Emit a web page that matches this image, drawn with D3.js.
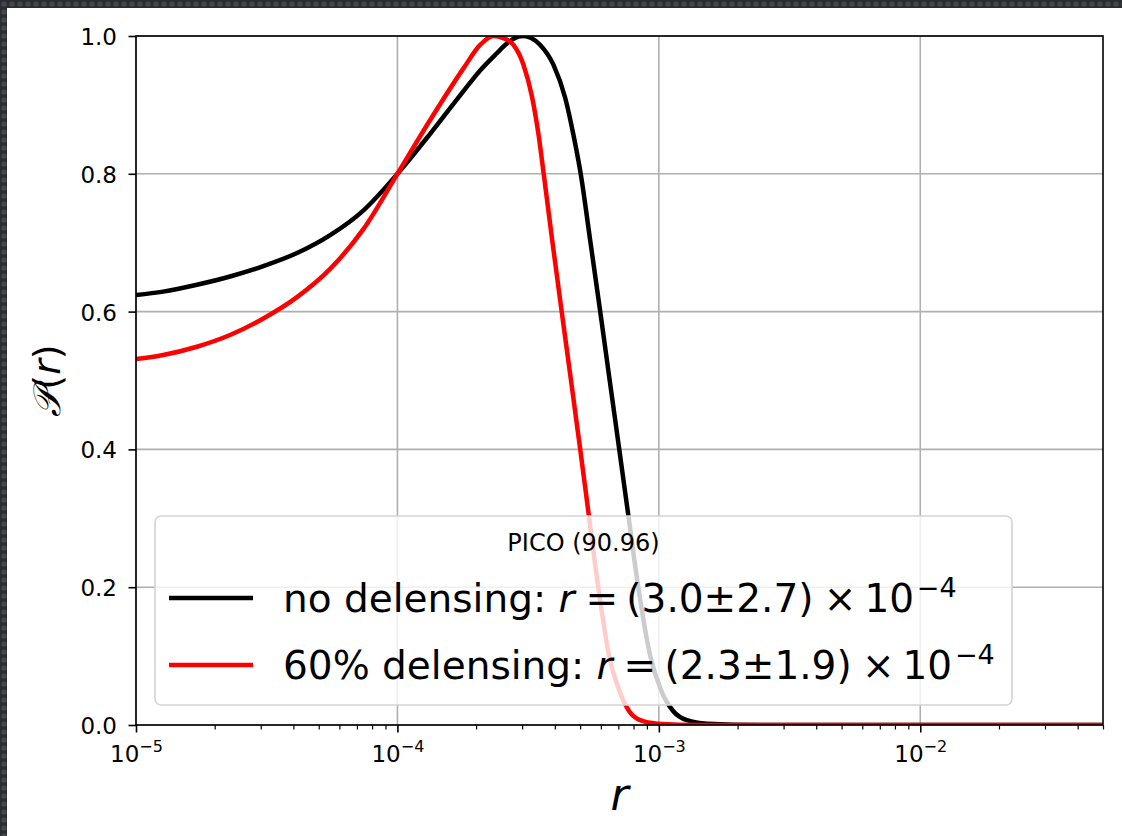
<!DOCTYPE html>
<html>
<head>
<meta charset="utf-8">
<script src="https://cdn.jsdelivr.net/npm/d3@7"></script>
<style>
  html, body { margin: 0; padding: 0; background: #ffffff; }
  svg { display: block; }
  text { font-family: "DejaVu Sans", sans-serif; fill: #000; }
</style>
</head>
<body>
<svg id="chart" width="1122" height="836"></svg>
<script>
// ---------------- data ----------------
const rNoDelensing = [1.0e-5, 1.27e-5, 1.71e-5, 2.29e-5, 3.07e-5, 4.13e-5, 5.53e-5, 7.42e-5, 1.0e-4,
  1.334e-4, 1.789e-4, 2.072e-4, 2.401e-4, 2.622e-4, 2.78e-4, 3.036e-4, 3.248e-4, 3.517e-4, 3.954e-4,
  4.384e-4, 4.716e-4, 5.025e-4, 5.478e-4, 5.967e-4, 6.487e-4, 7.056e-4, 7.67e-4, 8.342e-4, 9.272e-4,
  1.021e-3, 1.136e-3, 1.281e-3, 1.532e-3, 2.44e-3, 5.0e-2];
const pNoDelensing = [0.624, 0.629, 0.639, 0.651, 0.666, 0.685, 0.711, 0.747, 0.800,
  0.858, 0.920, 0.950, 0.975, 0.989, 0.996, 1.000, 0.997, 0.987, 0.958,
  0.910, 0.856, 0.800, 0.700, 0.600, 0.500, 0.400, 0.300, 0.200, 0.100,
  0.050, 0.020, 0.007, 0.002, 0.000, 0.000];

const rDelensing60 = [1.0e-5, 1.27e-5, 1.71e-5, 2.29e-5, 3.07e-5, 4.13e-5, 5.53e-5, 7.42e-5, 1.0e-4,
  1.334e-4, 1.789e-4, 2.072e-4, 2.33e-4, 2.538e-4, 2.78e-4, 3.036e-4, 3.268e-4, 3.465e-4, 3.627e-4,
  3.92e-4, 4.25e-4, 4.613e-4, 5.003e-4, 5.415e-4, 5.863e-4, 6.459e-4, 7.056e-4, 7.703e-4, 8.489e-4,
  9.86e-4, 1.44e-3, 5.0e-2];
const pDelensing60 = [0.531, 0.537, 0.549, 0.566, 0.590, 0.621, 0.662, 0.720, 0.800,
  0.878, 0.953, 0.987, 1.000, 0.997, 0.987, 0.958, 0.913, 0.857, 0.800,
  0.700, 0.600, 0.500, 0.400, 0.300, 0.200, 0.100, 0.050, 0.020, 0.007,
  0.002, 0.000, 0.000];

const seriesNames = ["no delensing", "60% delensing"];
const seriesColors = ["#000000", "#ff0000"];
const seriesMean = ["3.0", "2.3"];
const seriesErr = ["2.7", "1.9"];
const seriesExp = ["−4", "−4"];
const legendTitle = "PICO (90.96)";

const xDomain = [1e-5, 5e-2];
const yDomain = [0, 1];
const xMajorTicks = [1e-5, 1e-4, 1e-3, 1e-2];
const xMajorExps = ["−5", "−4", "−3", "−2"];
const yTicks = [0.0, 0.2, 0.4, 0.6, 0.8, 1.0];
const yTickLabels = ["0.0", "0.2", "0.4", "0.6", "0.8", "1.0"];

// ---------------- layout ----------------
const W = 1122, H = 836;
const axL = 136, axR = 1103, axT = 36, axB = 725;

const svg = d3.select("#chart");

// dark textured frame (top & left edges of the screenshot)
const defs = svg.append("defs");
const pat = defs.append("pattern").attr("id", "frameTex")
  .attr("width", 8).attr("height", 8).attr("patternUnits", "userSpaceOnUse");
pat.append("rect").attr("width", 8).attr("height", 8).attr("fill", "#2a2d32");
pat.append("circle").attr("cx", 4).attr("cy", 4).attr("r", 2.6).attr("fill", "#44474d");
svg.append("rect").attr("x", 0).attr("y", 0).attr("width", W).attr("height", H).attr("fill", "#ffffff");
svg.append("rect").attr("x", 0).attr("y", 0).attr("width", W).attr("height", 8).attr("fill", "url(#frameTex)");
svg.append("rect").attr("x", 0).attr("y", 0).attr("width", 7).attr("height", H).attr("fill", "url(#frameTex)");

defs.append("clipPath").attr("id", "axClip")
  .append("rect").attr("x", axL).attr("y", axT).attr("width", axR - axL).attr("height", axB - axT);

const x = d3.scaleLog().domain(xDomain).range([axL, axR]);
const y = d3.scaleLinear().domain(yDomain).range([axB, axT]);

// grid
const grid = svg.append("g").attr("stroke", "#b0b0b0").attr("stroke-width", 1.6);
xMajorTicks.forEach(t => {
  grid.append("line").attr("x1", x(t)).attr("x2", x(t)).attr("y1", axT).attr("y2", axB);
});
yTicks.forEach(t => {
  grid.append("line").attr("x1", axL).attr("x2", axR).attr("y1", y(t)).attr("y2", y(t));
});

// curves
const line = d3.line().x(d => x(d[0])).y(d => y(d[1])).curve(d3.curveMonotoneX);
const series = [
  d3.zip(rNoDelensing, pNoDelensing),
  d3.zip(rDelensing60, pDelensing60)
];
const curves = svg.append("g").attr("clip-path", "url(#axClip)");
series.forEach((s, i) => {
  curves.append("path").datum(s).attr("d", line)
    .attr("fill", "none").attr("stroke", seriesColors[i])
    .attr("stroke-width", 4.5).attr("stroke-linejoin", "round").attr("stroke-linecap", "butt");
});

// axes (ticks) via d3 axes, styled
const minorTicks = [];
for (let e = -5; e <= -2; e++) {
  for (let m = 2; m <= 9; m++) {
    const v = m * Math.pow(10, e);
    if (v <= xDomain[1] * 1.0001) minorTicks.push(v);
  }
}
const xMinorAxis = d3.axisBottom(x).tickValues(minorTicks).tickSize(4.5).tickFormat("");
const gxm = svg.append("g").attr("transform", `translate(0,${axB})`).call(xMinorAxis);
gxm.select(".domain").remove();
gxm.selectAll(".tick line").attr("stroke", "#000").attr("stroke-width", 1.2);

const xMajorAxis = d3.axisBottom(x).tickValues(xMajorTicks).tickSize(7.5).tickFormat("");
const gx = svg.append("g").attr("transform", `translate(0,${axB})`).call(xMajorAxis);
gx.select(".domain").remove();
gx.selectAll(".tick line").attr("stroke", "#000").attr("stroke-width", 1.6);
gx.selectAll(".tick").each(function(d, i) {
  const t = d3.select(this).append("text")
    .attr("x", 0).attr("y", 36.5).attr("text-anchor", "middle")
    .style("font-size", "23px").attr("fill", "#000");
  t.append("tspan").text("10");
  t.append("tspan").attr("dy", -9.5).style("font-size", "16px").text(xMajorExps[i]);
});

const yAxis = d3.axisLeft(y).tickValues(yTicks).tickSize(7.5).tickFormat("");
const gy = svg.append("g").attr("transform", `translate(${axL},0)`).call(yAxis);
gy.select(".domain").remove();
gy.selectAll(".tick line").attr("stroke", "#000").attr("stroke-width", 1.6);
gy.selectAll(".tick").each(function(d, i) {
  d3.select(this).append("text")
    .attr("x", -19).attr("y", 8.5).attr("text-anchor", "end")
    .style("font-size", "23px").attr("fill", "#000").text(yTickLabels[i]);
});

// spines
svg.append("rect").attr("x", axL).attr("y", axT).attr("width", axR - axL).attr("height", axB - axT)
  .attr("fill", "none").attr("stroke", "#000").attr("stroke-width", 1.6);

// axis labels
svg.append("text").attr("x", (axL + axR) / 2).attr("y", 810).attr("text-anchor", "middle")
  .style("font-size", "44px").style("font-style", "italic").text("r");

const yl = svg.append("text")
  .attr("transform", `translate(60,${(axT + axB) / 2}) rotate(-90)`)
  .attr("text-anchor", "middle").style("font-size", "38px");
yl.append("tspan").style("font-style", "italic").text("𝒫");
yl.append("tspan").text("(");
yl.append("tspan").style("font-style", "italic").text("r");
yl.append("tspan").text(")");

// legend
const lg = svg.append("g");
lg.append("rect").attr("x", 155).attr("y", 516).attr("width", 857).attr("height", 189)
  .attr("rx", 6).attr("ry", 6)
  .attr("fill", "#ffffff").attr("fill-opacity", 0.8)
  .attr("stroke", "#d4d4d4").attr("stroke-width", 1.6);
lg.append("text").attr("x", 583.5).attr("y", 551).attr("text-anchor", "middle")
  .style("font-size", "24px").text(legendTitle);

const rowY = [598, 665];
seriesNames.forEach((name, i) => {
  lg.append("line").attr("x1", 169).attr("x2", 253).attr("y1", rowY[i]).attr("y2", rowY[i])
    .attr("stroke", seriesColors[i]).attr("stroke-width", 4.5);
  const t = lg.append("text").attr("x", 283).attr("y", rowY[i] + 13.5).style("font-size", "39px");
  t.append("tspan").text(name + ":\u00A0");
  t.append("tspan").style("font-style", "italic").text("r");
  t.append("tspan").attr("dx", 11).text("=");
  t.append("tspan").attr("dx", 8.2).text("(" + seriesMean[i] + "±" + seriesErr[i] + ")");
  t.append("tspan").attr("dx", 10.3).text("×");
  t.append("tspan").attr("dx", 7.9).text("10");
  t.append("tspan").attr("dx", 2.8).attr("dy", -15).style("font-size", "27px").text(seriesExp[i]);
});
</script>
</body>
</html>
